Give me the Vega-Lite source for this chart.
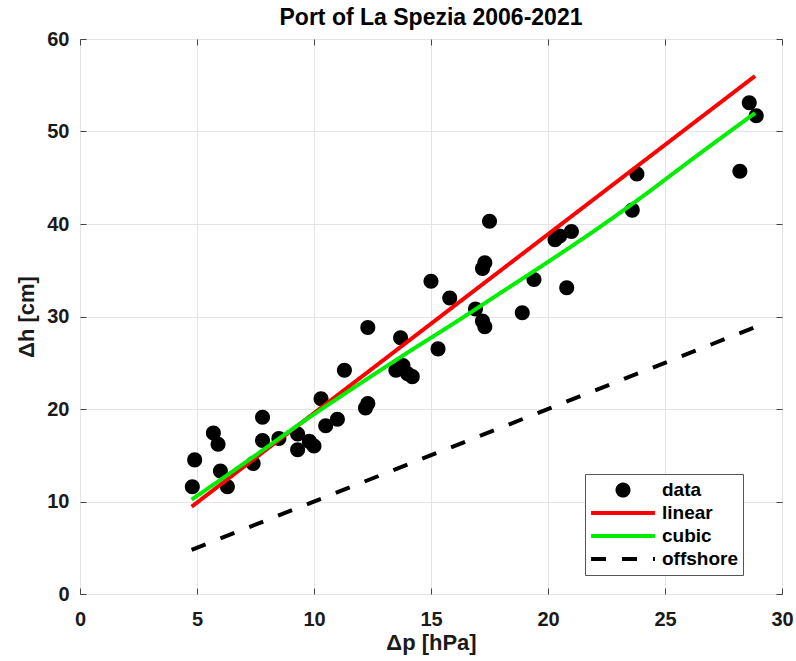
{
  "$schema": "https://vega.github.io/schema/vega-lite/v6.json",
  "width": 702,
  "height": 555,
  "autosize": {"type": "none"},
  "padding": {"left": 80, "top": 39, "right": 14, "bottom": 67},
  "background": "white",
  "title": {"text": "Port of La Spezia 2006-2021", "fontSize": 23, "font": "Liberation Sans", "fontWeight": "bold", "color": "#000000", "offset": -1},
  "config": {
    "font": "Liberation Sans",
    "view": {"stroke": "#3a3a3a", "strokeWidth": 1},
    "legend": {
      "orient": "none", "legendX": 505, "legendY": 435,
      "padding": 5, "fillColor": "white", "strokeColor": "#555555",
      "labelFontSize": 19, "labelFontWeight": "bold", "labelColor": "#000000", "labelFont": "Liberation Sans",
      "symbolSize": 324, "symbolStrokeWidth": 4, "symbolOffset": 22, "labelOffset": 28, "rowPadding": 1, "clipHeight": 22
    }
  },
  "datasets": {
    "obs": [
      {"series": "data", "dp": 4.8, "dh": 11.6}, {"series": "data", "dp": 4.9, "dh": 14.5}, {"series": "data", "dp": 5.7, "dh": 17.4},
      {"series": "data", "dp": 5.9, "dh": 16.2}, {"series": "data", "dp": 6.0, "dh": 13.3}, {"series": "data", "dp": 6.3, "dh": 11.6},
      {"series": "data", "dp": 7.4, "dh": 14.1}, {"series": "data", "dp": 7.8, "dh": 19.1}, {"series": "data", "dp": 7.8, "dh": 16.6},
      {"series": "data", "dp": 8.5, "dh": 16.8}, {"series": "data", "dp": 9.3, "dh": 17.3}, {"series": "data", "dp": 9.3, "dh": 15.6},
      {"series": "data", "dp": 9.8, "dh": 16.5}, {"series": "data", "dp": 10.0, "dh": 16.0}, {"series": "data", "dp": 10.3, "dh": 21.1},
      {"series": "data", "dp": 10.5, "dh": 18.2}, {"series": "data", "dp": 11.0, "dh": 18.9}, {"series": "data", "dp": 11.3, "dh": 24.2},
      {"series": "data", "dp": 12.2, "dh": 20.1}, {"series": "data", "dp": 12.3, "dh": 20.6}, {"series": "data", "dp": 12.3, "dh": 28.8},
      {"series": "data", "dp": 13.5, "dh": 24.2}, {"series": "data", "dp": 13.7, "dh": 27.7}, {"series": "data", "dp": 13.8, "dh": 24.7},
      {"series": "data", "dp": 14.0, "dh": 23.8}, {"series": "data", "dp": 14.2, "dh": 23.5}, {"series": "data", "dp": 15.0, "dh": 33.8},
      {"series": "data", "dp": 15.3, "dh": 26.5}, {"series": "data", "dp": 15.8, "dh": 32.0}, {"series": "data", "dp": 16.9, "dh": 30.8},
      {"series": "data", "dp": 17.2, "dh": 29.5}, {"series": "data", "dp": 17.3, "dh": 28.9}, {"series": "data", "dp": 17.2, "dh": 35.2},
      {"series": "data", "dp": 17.3, "dh": 35.8}, {"series": "data", "dp": 17.5, "dh": 40.3}, {"series": "data", "dp": 18.9, "dh": 30.4},
      {"series": "data", "dp": 19.4, "dh": 34.0}, {"series": "data", "dp": 20.3, "dh": 38.3}, {"series": "data", "dp": 20.5, "dh": 38.7},
      {"series": "data", "dp": 20.8, "dh": 33.1}, {"series": "data", "dp": 21.0, "dh": 39.2}, {"series": "data", "dp": 23.6, "dh": 41.5},
      {"series": "data", "dp": 23.8, "dh": 45.4}, {"series": "data", "dp": 28.2, "dh": 45.7}, {"series": "data", "dp": 28.6, "dh": 53.1},
      {"series": "data", "dp": 28.9, "dh": 51.7}
    ],
    "fits": [
      {"series": "linear", "dp": 4.77, "dh": 9.44}, {"series": "linear", "dp": 28.85, "dh": 56.0},
      {"series": "cubic", "dp": 4.77, "dh": 10.2}, {"series": "cubic", "dp": 7.0, "dh": 14.1}, {"series": "cubic", "dp": 9.4, "dh": 18.4},
      {"series": "cubic", "dp": 12.0, "dh": 22.8}, {"series": "cubic", "dp": 14.0, "dh": 26.1}, {"series": "cubic", "dp": 16.0, "dh": 29.3},
      {"series": "cubic", "dp": 18.0, "dh": 32.6}, {"series": "cubic", "dp": 20.0, "dh": 35.9}, {"series": "cubic", "dp": 22.0, "dh": 39.3},
      {"series": "cubic", "dp": 24.0, "dh": 42.9}, {"series": "cubic", "dp": 26.0, "dh": 46.7}, {"series": "cubic", "dp": 28.85, "dh": 52.0},
      {"series": "offshore", "dp": 4.77, "dh": 4.77}, {"series": "offshore", "dp": 28.85, "dh": 28.85}
    ]
  },
  "layer": [
    {
      "data": {"name": "obs"},
      "mark": {"type": "point", "filled": true, "size": 605, "opacity": 1},
      "encoding": {
        "x": {
          "field": "dp", "type": "quantitative",
          "scale": {"domain": [0, 30], "nice": false, "zero": false},
          "axis": {
            "orient": "bottom", "values": [0, 5, 10, 15, 20, 25, 30], "format": "d",
            "domain": false, "grid": true, "gridColor": "#e4e4e4", "gridWidth": 1,
            "ticks": true, "tickSize": -6, "tickColor": "#444444", "tickWidth": 1,
            "labelFlush": false, "labelFontSize": 20, "labelFontWeight": "bold", "labelColor": "#1a1a1a", "labelPadding": 21,
            "title": "Δp [hPa]", "titleFontSize": 22, "titleFontWeight": "bold", "titleColor": "#1a1a1a", "titlePadding": 3
          }
        },
        "y": {
          "field": "dh", "type": "quantitative",
          "scale": {"domain": [0, 60], "nice": false, "zero": false},
          "axis": {
            "orient": "left", "values": [0, 10, 20, 30, 40, 50, 60], "format": "d",
            "domain": false, "grid": true, "gridColor": "#e4e4e4", "gridWidth": 1,
            "ticks": true, "tickSize": -6, "tickColor": "#444444", "tickWidth": 1,
            "labelFlush": false, "labelFontSize": 20, "labelFontWeight": "bold", "labelColor": "#1a1a1a", "labelPadding": 17,
            "title": "Δh [cm]", "titleFontSize": 22, "titleFontWeight": "bold", "titleColor": "#1a1a1a", "titlePadding": 8
          }
        },
        "color": {
          "field": "series", "type": "nominal",
          "scale": {"domain": ["data", "linear", "cubic", "offshore"], "range": ["#000000", "#ff0000", "#00ee00", "#000000"]},
          "legend": {"title": null}
        },
        "shape": {
          "field": "series", "type": "nominal",
          "scale": {"domain": ["data", "linear", "cubic", "offshore"], "range": ["M0.61,0A0.61,0.61,0,1,1,-0.61,0A0.61,0.61,0,1,1,0.61,0Z", "M-3.55,0H3.55", "M-3.55,0H3.55", "M-3.55,0H3.55"]},
          "legend": {"title": null}
        }
      }
    },
    {
      "data": {"name": "fits"},
      "mark": {"type": "line", "strokeWidth": 4, "interpolate": "monotone"},
      "encoding": {
        "x": {"field": "dp", "type": "quantitative",
          "axis": {"orient": "top", "values": [0, 5, 10, 15, 20, 25, 30], "domain": false, "grid": false, "labels": false, "title": null, "ticks": true, "tickSize": -6, "tickColor": "#444444"}},
        "y": {"field": "dh", "type": "quantitative",
          "axis": {"orient": "right", "values": [0, 10, 20, 30, 40, 50, 60], "domain": false, "grid": false, "labels": false, "title": null, "ticks": true, "tickSize": -6, "tickColor": "#444444"}},
        "color": {"field": "series", "type": "nominal", "legend": {"title": null}},
        "strokeDash": {
          "field": "series", "type": "nominal",
          "scale": {"domain": ["data", "linear", "cubic", "offshore"], "range": [[1, 0], [1, 0], [1, 0], [15, 16]]},
          "legend": {"title": null}
        }
      }
    }
  ],
  "resolve": {"axis": {"x": "independent", "y": "independent"}}
}
